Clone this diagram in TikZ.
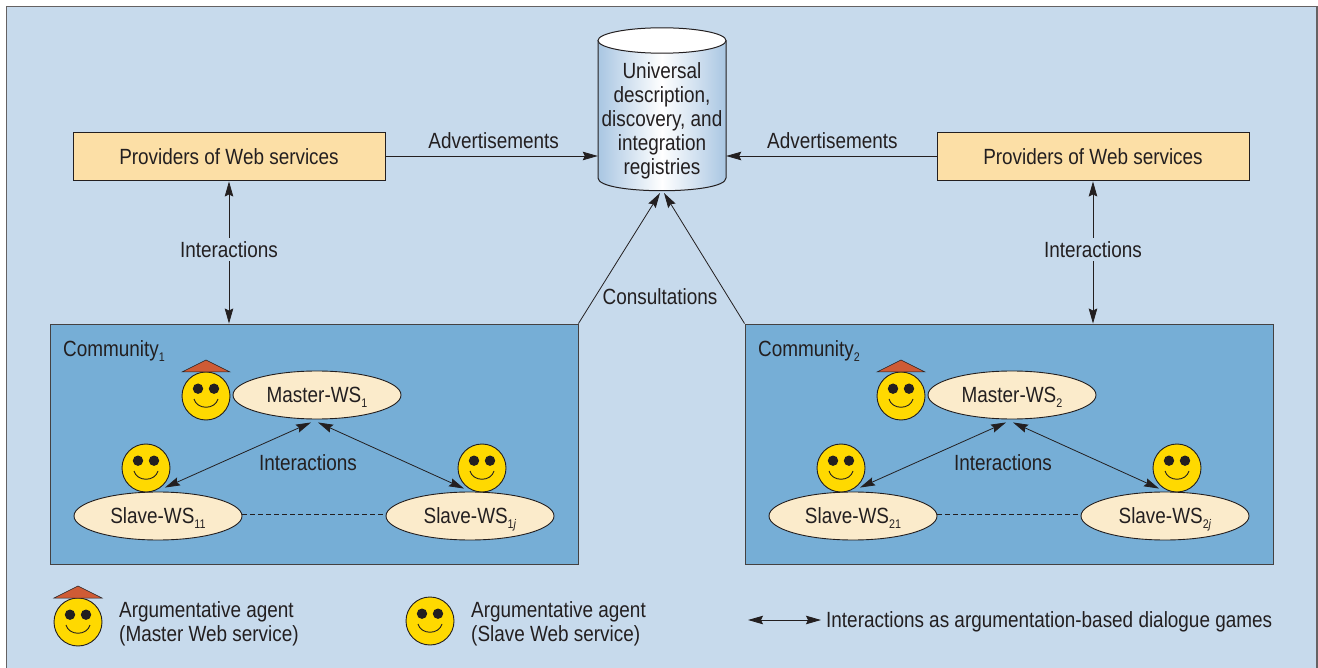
\documentclass[tikz,border=0pt]{standalone}
\usepackage{fontspec}
\setmainfont[FakeStretch=0.86]{Liberation Sans}
\usetikzlibrary{arrows.meta,shapes.geometric}
\definecolor{panelblue}{HTML}{C7DAEC}
\definecolor{commblue}{HTML}{76AED6}
\definecolor{provorange}{HTML}{FCDFA6}
\definecolor{wscream}{HTML}{FBEBCB}
\definecolor{smileyellow}{HTML}{FFD900}
\definecolor{hatred}{HTML}{CF5B35}
\definecolor{inkgray}{HTML}{231F20}
\definecolor{regedge}{HTML}{A9C6E2}
\newcommand{\wssub}[1]{\raisebox{-5pt}[0pt][0pt]{\fontsize{12.5}{12.5}\selectfont #1}}
\tikzset{
    >={Stealth[length=15pt,width=8.5pt,inset=2pt]},
    every node/.style={font=\fontsize{22}{24}\selectfont,text=inkgray},
    link/.style={<->,draw=inkgray,line width=0.8pt},
    oneway/.style={->,draw=inkgray,line width=0.8pt},
    provbox/.style={draw=inkgray,line width=0.9pt,fill=provorange,minimum width=312pt,minimum height=48pt,text height=22pt,text depth=4.6pt},
    commbox/.style={draw=inkgray!85,line width=0.9pt,fill=commblue,minimum width=528pt,minimum height=240pt},
    wsnode/.style={ellipse,draw=inkgray,line width=0.9pt,fill=wscream,minimum width=168pt,minimum height=48pt,inner sep=0pt},
    smiley/.pic={
        \draw[fill=smileyellow,draw=inkgray,line width=0.9pt] (0,0) circle (24);
        \fill[inkgray] (-8,-7.3) circle (5.2) (8,-7.3) circle (5.2);
        \draw[inkgray,line width=0.9pt] (-12,3) .. controls (-9,14) and (9,14) .. (12,3);
    },
    masterhat/.pic={
        \fill[hatred,draw=inkgray,line width=0.5pt] (-24,-24) -- (0,-36) -- (24,-24) -- cycle;
    },
}
\begin{document}
\begin{tikzpicture}[x=1pt,y=-1pt]
    \useasboundingbox (0,0) rectangle (1318,668);
    \fill[white] (0,0) rectangle (1318,668);
    \fill[panelblue] (6.5,6.5) rectangle (1317,668);
    \draw[draw=inkgray!70,line width=1.5pt] (6.5,668) -- (6.5,6.5) -- (1317,6.5) -- (1317,668);

    % top row
    \node[minimum width=128pt,minimum height=162pt,inner sep=0pt] (reg) at (662,109) {};
    \shade[left color=regedge,right color=regedge,middle color=white]
        (598,40.5) -- (598,178) .. controls (598,195) and (726,195) .. (726,178) -- (726,40.5) -- cycle;
    \draw[draw=inkgray,line width=1pt]
        (598,40.5) -- (598,178) .. controls (598,195) and (726,195) .. (726,178) -- (726,40.5);
    \fill[white,draw=inkgray,line width=1pt] (662,40.5) ellipse (64 and 12.7);
    \node[align=center] (regtext) at (662,121) {Universal\\description,\\discovery, and\\integration\\registries};
    \coordinate (regleft) at (660,193);
    \coordinate (regright) at (664,193);

    \node[provbox] (prova) at (229,156) {Providers of Web services};
    \node[provbox] (provb) at (1093,156) {Providers of Web services};

    \draw[oneway] (prova.east) -- (prova.east -| reg.west) node[midway,above=4pt,xshift=2pt] (adva) {Advertisements};
    \draw[oneway] (provb.west) -- (provb.west -| reg.east) node[midway,above=4pt,xshift=1pt] (advb) {Advertisements};

    % community one
    \node[commbox] (comma) at (314,444) {};
    \node[anchor=west,inner xsep=0pt] (commatext) at (63,350.5) {Community\wssub{1}};
    \node[wsnode] (mastera) at (317,395) {Master-WS\wssub{1}};
    \node[wsnode] (slavea) at (158,516) {Slave-WS\wssub{11}};
    \node[wsnode] (slaveb) at (470,516) {Slave-WS\wssub{1\textit{j}}};
    \pic at (206,396) {smiley};
    \pic at (206,396) {masterhat};
    \pic at (146,468) {smiley};
    \pic at (482,468) {smiley};
    \draw[link] ([xshift=-6pt,yshift=-3pt]mastera.south) -- ([xshift=7pt,yshift=4pt]slavea.north);
    \draw[link] ([xshift=1pt,yshift=-3pt]mastera.south) -- ([xshift=-6pt,yshift=3pt]slaveb.north);
    \draw[dashed,dash pattern=on 5pt off 3pt,draw=inkgray,line width=0.8pt] ([yshift=2pt]slavea.east) -- ([yshift=2pt]slaveb.west);
    \node (intera) at (308,462.5) {Interactions};

    % community two
    \node[commbox] (commb) at (1009,444) {};
    \node[anchor=west,inner xsep=0pt] (commbtext) at (758,350.5) {Community\wssub{2}};
    \node[wsnode] (masterb) at (1012,395) {Master-WS\wssub{2}};
    \node[wsnode] (slavec) at (853,516) {Slave-WS\wssub{21}};
    \node[wsnode] (slaved) at (1165,516) {Slave-WS\wssub{2\textit{j}}};
    \pic at (901,396) {smiley};
    \pic at (901,396) {masterhat};
    \pic at (841,468) {smiley};
    \pic at (1177,468) {smiley};
    \draw[link] ([xshift=-6pt,yshift=-3pt]masterb.south) -- ([xshift=7pt,yshift=4pt]slavec.north);
    \draw[link] ([xshift=1pt,yshift=-3pt]masterb.south) -- ([xshift=-6pt,yshift=3pt]slaved.north);
    \draw[dashed,dash pattern=on 5pt off 3pt,draw=inkgray,line width=0.8pt] ([yshift=2pt]slavec.east) -- ([yshift=2pt]slaved.west);
    \node (interb) at (1003,462.5) {Interactions};

    % between the rows
    \draw[link] ([yshift=-1pt]prova.south) -- (prova.south |- comma.north) node[pos=0.48,fill=panelblue,inner xsep=1pt] (interc) {Interactions};
    \draw[link] ([yshift=-1pt]provb.south) -- (provb.south |- commb.north) node[pos=0.48,fill=panelblue,inner xsep=1pt] (interd) {Interactions};
    \draw[oneway] (comma.north east) -- (regleft);
    \draw[oneway] (commb.north west) -- (regright);
    \node[fill=panelblue,inner sep=1pt] (consult) at (660,297) {Consultations};

    % legend
    \pic at (78,622) {smiley};
    \pic at (78,622) {masterhat};
    \node[anchor=west,align=left,inner xsep=0pt] (legmaster) at (119,624) {Argumentative agent\\(Master Web service)};
    \pic at (430,621) {smiley};
    \node[anchor=west,align=left,inner xsep=0pt] (legslave) at (471,624) {Argumentative agent\\(Slave Web service)};
    \coordinate (legstart) at (748,620);
    \coordinate (legend) at (821,620);
    \draw[link] (legstart) -- (legend);
    \node[anchor=west,inner xsep=0pt] (legarrow) at (826,621.5) {Interactions as argumentation-based dialogue games};
\end{tikzpicture}
\end{document}
